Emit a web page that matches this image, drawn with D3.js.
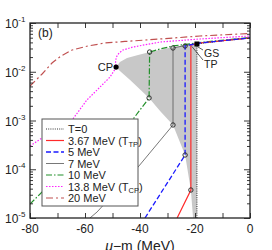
<!DOCTYPE html>
<html><head><meta charset="utf-8">
<script src="https://cdn.jsdelivr.net/npm/d3@7"></script>
<style>body{margin:0;background:#fff}svg{display:block;font-family:"Liberation Sans",Arial,sans-serif}</style>
</head><body><svg width="272" height="250"></svg>
<script>
// ---- data (mu-m in MeV, density) ----
const xTickValues = [-80, -60, -40, -20, 0];
const xMinorTicks = [-80, -70, -60, -50, -40, -30, -20, -10, 0];
const yDecades = [1e-5, 1e-4, 1e-3, 1e-2, 1e-1];
const yExpLabels = ["-5", "-4", "-3", "-2", "-1"];

const t0Curve = [[-19.3, 1e-5], [-19.3, 0.0371], [-9.1, 0.0436], [0, 0.049]];
const t367Curve = [[-26.5, 1e-5], [-21.5, 3.75e-5], [-21.5, 0.0354], [-18.2, 0.0389], [-9.1, 0.0438], [0, 0.0493]];
const t5Curve = [[-38.2, 1e-5], [-23.6, 1.96e-4], [-23.6, 0.0338], [-18.2, 0.0389], [-9.1, 0.0438], [0, 0.0493]];
const t7Curve = [[-58.2, 1e-5], [-55.6, 1.33e-5], [-40.7, 1.11e-4], [-28.0, 8.09e-4], [-28.0, 0.0307], [-23.6, 0.0345], [-18.2, 0.039], [-9.1, 0.044], [0, 0.0495]];
const t10Curve = [[-80, 1.94e-5], [-75.6, 3.41e-5], [-58, 2.6e-4], [-42.5, 1.07e-3], [-36.7, 2.9e-3], [-36.5, 0.0254], [-32.7, 0.0293], [-28.0, 0.0338], [-18.2, 0.0398], [-9.1, 0.0448], [0, 0.0504]];
const t138Curve = [[-80, 3.0e-4], [-75.6, 4.38e-4], [-64.7, 1.02e-3], [-59.3, 2.64e-3], [-54.5, 4.87e-3], [-50.9, 7.8e-3], [-49.3, 0.0108], [-48.7, 0.0125], [-48.9, 0.0158], [-48.6, 0.0201], [-47.6, 0.0243], [-46.2, 0.0279], [-42.5, 0.0322], [-32.7, 0.0407], [-18.2, 0.047], [0, 0.0541]];
const t20Curve = [[-80, 0.0051], [-75.6, 0.009], [-72.0, 0.0151], [-68.7, 0.0211], [-64.7, 0.0279], [-58.9, 0.0338], [-52.7, 0.0389], [-45.5, 0.0418], [-32.7, 0.047], [-18.2, 0.0541], [0, 0.0609]];

const coexUpper = [[-48.7, 0.0125], [-47.3, 0.0158], [-44.7, 0.0191], [-40.7, 0.0221], [-36.4, 0.0254], [-28.0, 0.0322], [-23.6, 0.0345], [-19.3, 0.0371]];
const coexLower = [[-19.3, 1e-5], [-20.7, 1e-5], [-21.5, 3.75e-5], [-23.6, 1.96e-4], [-28.0, 8.09e-4], [-32.7, 1.57e-3], [-36.7, 2.9e-3], [-43.6, 6.77e-3], [-47.3, 0.01035], [-48.7, 0.0125]];

const openMarkers = [[-36.7, 2.9e-3], [-36.5, 0.0254], [-28.0, 8.09e-4], [-28.0, 0.0307], [-23.6, 1.96e-4], [-23.6, 0.0338], [-21.5, 3.75e-5]];
const cpPoint = [-48.7, 0.0125];
const gsPoint = [-19.3, 0.0371];

const legendLabels = ["T=0", "3.67 MeV (T|TP|)", "5 MeV", "7 MeV", "10 MeV", "13.8 MeV (T|CP|)", "20 MeV"];

// ---- layout ----
const L = 30, R = 250, T = 23, B = 218;
const svg = d3.select("svg");
const x = d3.scaleLinear().domain([-80, 0]).range([L, R]);
const y = d3.scaleLog().domain([1e-5, 1e-1]).range([B, T]);

svg.append("defs").append("clipPath").attr("id", "clip")
  .append("rect").attr("x", L).attr("y", T).attr("width", R - L).attr("height", B - T);

const plot = svg.append("g").attr("clip-path", "url(#clip)");
const line = d3.line().x(d => x(d[0])).y(d => y(d[1]));

// shaded coexistence region
plot.append("path").attr("d", line(coexUpper.concat(coexLower)) + "Z")
  .attr("fill", "#c8c8c8").attr("stroke", "none");

const styles = [
  {data: t0Curve, color: "#333", w: 1, dash: "1,1.2"},
  {data: t367Curve, color: "#ff2a2a", w: 1.2, dash: null},
  {data: t5Curve, color: "#1a1aff", w: 1.3, dash: "5,2.5"},
  {data: t7Curve, color: "#555", w: 0.8, dash: null},
  {data: t10Curve, color: "#22902a", w: 1.2, dash: "6,2,1.5,2"},
  {data: t138Curve, color: "#ff22ff", w: 1.2, dash: "1.5,1.5"},
  {data: t20Curve, color: "#c05050", w: 1.2, dash: "7,3,2,3"}
];
const drawOrder = [6, 5, 4, 0, 3, 1, 2];
drawOrder.forEach(i => {
  const s = styles[i];
  plot.append("path").attr("d", line(s.data)).attr("fill", "none")
    .attr("stroke", s.color).attr("stroke-width", s.w)
    .attr("stroke-dasharray", s.dash);
});

// markers
plot.selectAll("circle.open").data(openMarkers).enter().append("circle")
  .attr("cx", d => x(d[0])).attr("cy", d => y(d[1])).attr("r", 2.2)
  .attr("fill", "none").attr("stroke", "#222").attr("stroke-width", 0.9);
plot.append("circle").attr("cx", x(cpPoint[0])).attr("cy", y(cpPoint[1])).attr("r", 2.6).attr("fill", "#000");
plot.append("rect").attr("x", x(gsPoint[0]) - 2.5).attr("y", y(gsPoint[1]) - 2.5)
  .attr("width", 5).attr("height", 5).attr("fill", "#000");

// annotations
svg.append("text").attr("x", 113).attr("y", 71).attr("text-anchor", "end")
  .attr("font-size", 11).attr("fill", "#222").text("CP");
svg.append("line").attr("x1", x(gsPoint[0]) - 0.5).attr("y1", y(gsPoint[1]) + 2)
  .attr("x2", 203).attr("y2", 50).attr("stroke", "#333").attr("stroke-width", 0.8);
svg.append("line").attr("x1", x(-21.5) + 1).attr("y1", y(0.0354) + 1.5)
  .attr("x2", 203).attr("y2", 60).attr("stroke", "#333").attr("stroke-width", 0.8);
svg.append("text").attr("x", 204).attr("y", 57).attr("font-size", 10.5).attr("fill", "#222").text("GS");
svg.append("text").attr("x", 204).attr("y", 68).attr("font-size", 10.5).attr("fill", "#222").text("TP");
svg.append("text").attr("x", 38).attr("y", 37).attr("font-size", 12).attr("fill", "#222").text("(b)");

// axes ticks (inward)
svg.append("g").attr("transform", `translate(0,${B})`)
  .call(d3.axisBottom(x).tickValues(xMinorTicks).tickSize(-5).tickFormat(""));
svg.append("g").attr("transform", `translate(0,${T})`)
  .call(d3.axisTop(x).tickValues(xMinorTicks).tickSize(-5).tickFormat(""));
const yMinor = [];
for (let e = -5; e < -1; e++) for (let k = 2; k <= 9; k++) yMinor.push(k * Math.pow(10, e));
svg.append("g").attr("transform", `translate(${L},0)`)
  .call(d3.axisLeft(y).tickValues(yMinor).tickSize(-3).tickFormat(""));
svg.append("g").attr("transform", `translate(${L},0)`)
  .call(d3.axisLeft(y).tickValues(yDecades).tickSize(-6).tickFormat(""));
svg.append("g").attr("transform", `translate(${R},0)`)
  .call(d3.axisRight(y).tickValues(yMinor).tickSize(-3).tickFormat(""));
svg.append("g").attr("transform", `translate(${R},0)`)
  .call(d3.axisRight(y).tickValues(yDecades).tickSize(-6).tickFormat(""));
svg.selectAll(".domain").remove();
svg.selectAll(".tick line").attr("stroke", "#222").attr("stroke-width", 0.9);

// frame
svg.append("rect").attr("x", L).attr("y", T).attr("width", R - L).attr("height", B - T)
  .attr("fill", "none").attr("stroke", "#222").attr("stroke-width", 1.3);

// tick labels
xTickValues.forEach(v => {
  svg.append("text").attr("x", x(v)).attr("y", 233).attr("text-anchor", "middle")
    .attr("font-size", 12).attr("fill", "#222").text(String(v));
});
yDecades.forEach((v, i) => {
  const t = svg.append("text").attr("x", 5).attr("y", y(v) + 5).attr("font-size", 12).attr("fill", "#222");
  t.append("tspan").text("10");
  t.append("tspan").attr("dy", -6).attr("font-size", 8).text(yExpLabels[i]);
});

// axis title
const xt = svg.append("text").attr("x", 140).attr("y", 251).attr("text-anchor", "middle")
  .attr("font-size", 14).attr("fill", "#222");
xt.append("tspan").attr("font-style", "italic").text("μ");
xt.append("tspan").text("−m (MeV)");

// legend
const lg = svg.append("g");
lg.append("rect").attr("x", 42).attr("y", 119).attr("width", 96).attr("height", 87)
  .attr("fill", "#fff").attr("stroke", "#555").attr("stroke-width", 1);
legendLabels.forEach((lab, i) => {
  const s = styles[i];
  const yy = 129 + i * 11.5;
  lg.append("line").attr("x1", 46).attr("x2", 64).attr("y1", yy).attr("y2", yy)
    .attr("stroke", s.color).attr("stroke-width", s.w).attr("stroke-dasharray", s.dash);
  const t = lg.append("text").attr("x", 68).attr("y", yy + 4).attr("font-size", 11).attr("fill", "#222");
  const parts = lab.split("|");
  t.append("tspan").text(parts[0]);
  if (parts.length > 1) {
    t.append("tspan").attr("dy", 2.5).attr("font-size", 7.5).text(parts[1]);
    t.append("tspan").attr("dy", -2.5).text(parts[2]);
  }
});
</script></body></html>
